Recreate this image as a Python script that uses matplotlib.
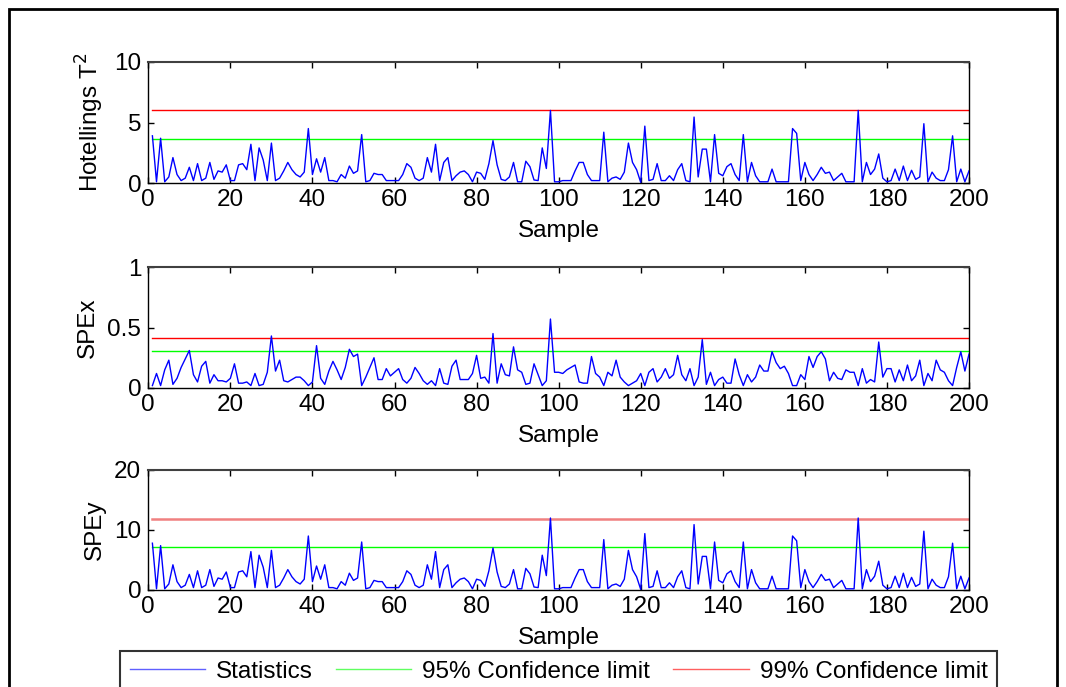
import matplotlib
matplotlib.use("Agg")
import matplotlib.pyplot as plt
from matplotlib.lines import Line2D
from matplotlib.patches import Rectangle

plt.rcParams['font.family'] = ['Liberation Sans', 'DejaVu Sans']

samples = list(range(1, 201))

t2 = [3.9, 0.1, 3.7, 0.1, 0.5, 2.1, 0.7, 0.2, 0.4, 1.3,
      0.2, 1.6, 0.2, 0.4, 1.7, 0.3, 1.0, 0.9, 1.5, 0.2,
      0.2, 1.5, 1.6, 1.1, 3.2, 0.2, 2.9, 1.9, 0.2, 3.3,
      0.2, 0.4, 1.0, 1.7, 1.1, 0.7, 0.5, 0.9, 4.5, 0.7,
      2.0, 0.9, 2.1, 0.2, 0.2, 0.1, 0.7, 0.4, 1.4, 0.8,
      1.0, 4.0, 0.1, 0.2, 0.8, 0.7, 0.7, 0.2, 0.2, 0.2,
      0.2, 0.7, 1.6, 1.3, 0.4, 0.2, 0.4, 2.1, 0.9, 3.2,
      0.2, 1.7, 2.1, 0.2, 0.6, 0.9, 1.0, 0.7, 0.1, 0.9,
      0.8, 0.3, 1.6, 3.5, 1.5, 0.3, 0.2, 0.5, 1.7, 0.1,
      0.1, 1.8, 1.35, 0.25, 0.2, 2.9, 1.2, 6.0, 0.1, 0.1,
      0.2, 0.2, 0.2, 1.0, 1.7, 1.7, 0.7, 0.2, 0.2, 0.2,
      4.2, 0.1, 0.4, 0.5, 0.3, 0.9, 3.3, 1.7, 1.1, 0.05,
      4.7, 0.2, 0.3, 1.6, 0.2, 0.2, 0.6, 0.2, 1.1, 1.6,
      0.2, 0.1, 5.45, 0.5, 2.8, 2.8, 0.1, 4.0, 0.8, 0.6,
      1.35, 1.6, 0.7, 0.2, 4.0, 0.1, 1.7, 0.6, 0.1, 0.1,
      0.1, 1.15, 0.1, 0.1, 0.1, 0.1, 4.5, 4.1, 0.2, 1.7,
      0.7, 0.2, 0.7, 1.3, 0.8, 0.9, 0.2, 0.5, 0.8, 0.1,
      0.1, 0.1, 6.0, 0.1, 1.7, 0.7, 1.15, 2.4, 0.4, 0.1,
      0.2, 1.15, 0.2, 1.4, 0.2, 1.05, 0.3, 0.5, 4.9, 0.1,
      0.9, 0.4, 0.2, 0.2, 1.1, 3.9, 0.1, 1.15, 0.1, 1.0]

spex = [0.02, 0.12, 0.02, 0.15, 0.23, 0.03, 0.08, 0.17, 0.24, 0.31,
        0.11, 0.05, 0.18, 0.22, 0.04, 0.11, 0.06, 0.06, 0.05, 0.08,
        0.20, 0.04, 0.04, 0.05, 0.02, 0.12, 0.02, 0.03, 0.13, 0.43,
        0.14, 0.23, 0.06, 0.05, 0.07, 0.09, 0.09, 0.06, 0.02, 0.05,
        0.35, 0.08, 0.03, 0.14, 0.22, 0.15, 0.07, 0.17, 0.32, 0.26,
        0.28, 0.02, 0.09, 0.17, 0.25, 0.07, 0.07, 0.16, 0.10, 0.13,
        0.16, 0.07, 0.04, 0.08, 0.17, 0.12, 0.06, 0.03, 0.06, 0.02,
        0.16, 0.04, 0.03, 0.18, 0.23, 0.07, 0.07, 0.07, 0.12, 0.27,
        0.08, 0.09, 0.04, 0.45, 0.04, 0.20, 0.11, 0.10, 0.34, 0.15,
        0.13, 0.03, 0.04, 0.20, 0.11, 0.02, 0.06, 0.57, 0.13, 0.13,
        0.12, 0.15, 0.17, 0.19, 0.05, 0.04, 0.04, 0.26, 0.12, 0.09,
        0.02, 0.13, 0.10, 0.23, 0.09, 0.05, 0.02, 0.04, 0.06, 0.12,
        0.02, 0.13, 0.16, 0.05, 0.09, 0.16, 0.08, 0.11, 0.27, 0.11,
        0.06, 0.16, 0.02, 0.09, 0.40, 0.03, 0.13, 0.02, 0.07, 0.09,
        0.04, 0.04, 0.24, 0.11, 0.02, 0.11, 0.05, 0.09, 0.19, 0.14,
        0.14, 0.30, 0.21, 0.16, 0.18, 0.12, 0.02, 0.02, 0.11, 0.07,
        0.26, 0.17, 0.26, 0.30, 0.24, 0.06, 0.13, 0.08, 0.07, 0.15,
        0.13, 0.13, 0.02, 0.16, 0.04, 0.07, 0.05, 0.38, 0.09, 0.16,
        0.16, 0.05, 0.15, 0.06, 0.19, 0.06, 0.10, 0.23, 0.02, 0.12,
        0.06, 0.23, 0.15, 0.13, 0.06, 0.02, 0.17, 0.30, 0.14, 0.28]

spey = [7.8, 0.2, 7.4, 0.2, 1.0, 4.2, 1.4, 0.4, 0.8, 2.6,
        0.4, 3.2, 0.4, 0.8, 3.4, 0.6, 2.0, 1.8, 3.0, 0.4,
        0.4, 3.0, 3.2, 2.2, 6.4, 0.4, 5.8, 3.8, 0.4, 6.6,
        0.4, 0.8, 2.0, 3.4, 2.2, 1.4, 1.0, 1.8, 9.0, 1.4,
        4.0, 1.8, 4.2, 0.4, 0.4, 0.2, 1.4, 0.8, 2.8, 1.6,
        2.0, 8.0, 0.2, 0.4, 1.6, 1.4, 1.4, 0.4, 0.4, 0.4,
        0.4, 1.4, 3.2, 2.6, 0.8, 0.4, 0.8, 4.2, 1.8, 6.4,
        0.4, 3.4, 4.2, 0.4, 1.2, 1.8, 2.0, 1.4, 0.2, 1.8,
        1.6, 0.6, 3.2, 7.0, 3.0, 0.6, 0.4, 1.0, 3.4, 0.2,
        0.2, 3.6, 2.7, 0.5, 0.4, 5.8, 2.4, 12.0, 0.2, 0.2,
        0.4, 0.4, 0.4, 2.0, 3.4, 3.4, 1.4, 0.4, 0.4, 0.4,
        8.4, 0.2, 0.8, 1.0, 0.6, 1.8, 6.6, 3.4, 2.2, 0.1,
        9.4, 0.4, 0.6, 3.2, 0.4, 0.4, 1.2, 0.4, 2.2, 3.2,
        0.4, 0.2, 10.9, 1.0, 5.6, 5.6, 0.2, 8.0, 1.6, 1.2,
        2.7, 3.2, 1.4, 0.4, 8.0, 0.2, 3.4, 1.2, 0.2, 0.2,
        0.2, 2.3, 0.2, 0.2, 0.2, 0.2, 9.0, 8.2, 0.4, 3.4,
        1.4, 0.4, 1.4, 2.6, 1.6, 1.8, 0.4, 1.0, 1.6, 0.2,
        0.2, 0.2, 12.0, 0.2, 3.4, 1.4, 2.3, 4.8, 0.8, 0.2,
        0.4, 2.3, 0.4, 2.8, 0.4, 2.1, 0.6, 1.0, 9.8, 0.2,
        1.8, 0.8, 0.4, 0.4, 2.2, 7.8, 0.2, 2.3, 0.2, 2.0]

limits95 = [3.6, 0.305, 7.25]
limits99 = [6.0, 0.41, 11.85]
ylims = [(0, 10), (0, 1), (0, 20)]
yticks = [[0, 5, 10], [0, 0.5, 1], [0, 10, 20]]
yticklabels = [['0', '5', '10'], ['0', '0.5', '1'], ['0', '10', '20']]
ylabels = ['Hotellings T$^2$', 'SPEx', 'SPEy']
xticks = list(range(0, 201, 20))
series = [t2, spex, spey]
legend_labels = ['Statistics', '95% Confidence limit', '99% Confidence limit']

W, H = 1066, 687
fig = plt.figure(figsize=(W / 100, H / 100), dpi=100)

# outer frame
fig.patches.append(Rectangle((9 / W, -0.05), 1048 / W, 1 - 9 / H + 0.05,
                             transform=fig.transFigure, fill=False,
                             edgecolor='black', linewidth=2.0, zorder=0))

boxes = [(62, 183), (267, 388), (470, 590)]
left_px, right_px = 148.3, 969.0
FS = 17.5

red99 = ['#ff0000', '#ff0000', '#f08080']
red_lw = [1.0, 1.0, 1.8]

for i, (top, bot) in enumerate(boxes):
    ax = fig.add_axes([left_px / W, 1 - bot / H, (right_px - left_px) / W, (bot - top) / H])
    ax.plot(samples, series[i], color='#0000ff', linewidth=1.0, zorder=3)
    ax.plot([samples[0], samples[-1]], [limits95[i]] * 2, color='#00ff00', linewidth=1.0, zorder=2)
    ax.plot([samples[0], samples[-1]], [limits99[i]] * 2, color=red99[i], linewidth=red_lw[i], zorder=2)
    ax.set_xlim(0, 200)
    ax.set_ylim(*ylims[i])
    ax.set_xticks(xticks)
    ax.set_xticklabels([str(v) for v in xticks], fontsize=FS)
    ax.set_yticks(yticks[i])
    ax.set_yticklabels(yticklabels[i], fontsize=FS)
    ax.tick_params(direction='in', length=4, width=1, top=True, right=True, pad=5)
    ax.tick_params(axis='x', pad=4)
    ax.set_xlabel('Sample', fontsize=FS, labelpad=7)
    ax.set_ylabel(ylabels[i], fontsize=FS, labelpad=6)
    for sp in ax.spines.values():
        sp.set_linewidth(1.0)
    ax.spines['top'].set_color('#404040')
    ax.spines['top'].set_linewidth(1.5)

handles = [Line2D([], [], color='#6060ff', linewidth=1.0),
           Line2D([], [], color='#60ff60', linewidth=1.0),
           Line2D([], [], color='#ff6060', linewidth=1.0)]
leg = fig.legend(handles, legend_labels, loc='upper left',
                 bbox_to_anchor=(120 / W, 1 - 651 / H), ncol=3, fontsize=FS,
                 frameon=True, fancybox=False, edgecolor='black',
                 handlelength=3.1, handletextpad=0.45, columnspacing=0.95,
                 borderaxespad=0, borderpad=0.4)
leg.get_frame().set_linewidth(1.5)

fig.savefig('out.png', dpi=100)
